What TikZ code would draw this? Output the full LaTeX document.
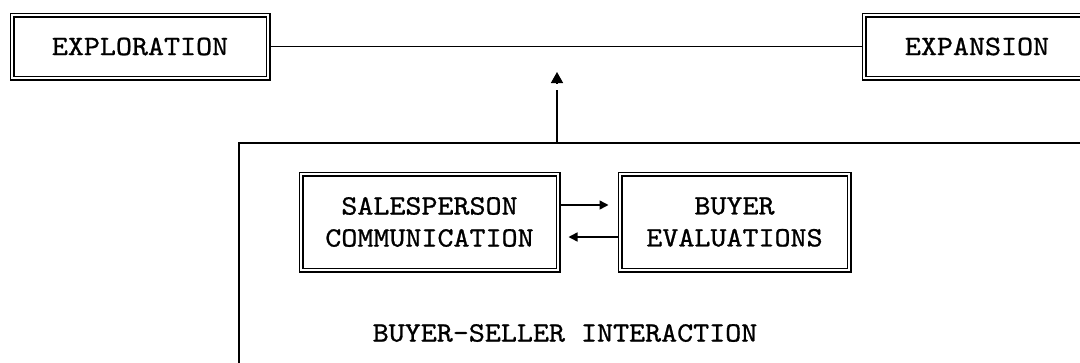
\documentclass[tikz,border=0pt]{standalone}
\usepackage{fontspec}
\newfontfamily\typewriter[FakeStretch=1.09,FakeBold=0.9]{lmmono10-regular.otf}
\usetikzlibrary{arrows.meta}
\begin{document}
\begin{tikzpicture}[x=1pt,y=-1pt,
  every node/.style={font=\typewriter\fontsize{28}{32}\selectfont, inner sep=0pt},
  dbox/.style={draw, double, double distance=2.4pt, line width=1.3pt,
    outer sep=2.5pt, align=center},
  link/.style={line width=1.5pt},
  tip/.style={-{Triangle[width=9pt,length=9pt]}}
]
\useasboundingbox (0,0) rectangle (1080,362);
\clip (0,0) rectangle (1080,362);

% outer stages of the relationship
\node[dbox, minimum width=256, minimum height=63] (explo) at (140,46.5) {EXPLORATION};
\node[dbox, minimum width=226, minimum height=63] (expan) at (977,46.5) {EXPANSION};
\draw[link] (explo.east) -- (expan.west);

% the interaction frame and its two parts
\node[draw, line width=1.7pt, minimum width=1000, minimum height=320,
  anchor=north west] (frame) at (238,142) {};
\node (label) at (565,333) {BUYER-SELLER INTERACTION};
\node[dbox, minimum width=257, minimum height=96] (sales) at (429.5,222)
  {SALESPERSON\\COMMUNICATION};
\node[dbox, minimum width=229, minimum height=96] (buyer) at (734.5,222)
  {BUYER\\EVALUATIONS};

% upward influence on the relationship: stem, then a detached head
\coordinate (apex) at (557,72);
\draw[link, shorten >=18pt] (frame.north -| apex) -- (apex);
\draw[link, -{Triangle[width=12pt,length=11pt]}] ([yshift=-11.2pt]apex) -- (apex);

% exchange between the salesperson and the buyer
\coordinate (upper) at (0,205);
\coordinate (lower) at (0,237);
\draw[link, tip, shorten >=9pt] (sales.east |- upper) -- (buyer.west |- upper);
\draw[link, tip, shorten >=8pt] (buyer.west |- lower) -- (sales.east |- lower);
\end{tikzpicture}
\end{document}
